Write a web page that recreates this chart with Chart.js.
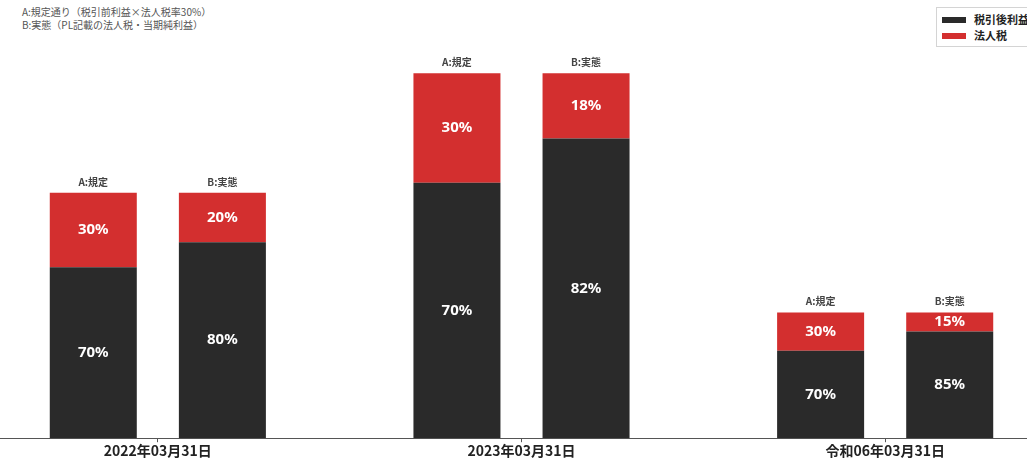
<!DOCTYPE html>
<html>
<head>
<meta charset="utf-8">
<script src="https://cdn.jsdelivr.net/npm/chart.js@4.4.0/dist/chart.umd.min.js"></script>
<style>
  body { margin: 0; width: 1027px; height: 459px; overflow: hidden; background: #fff; position: relative;
         font-family: "Noto Sans CJK JP", "Noto Sans", sans-serif; }
  #wrap { position: absolute; left: -24px; top: 0; width: 1091px; height: 459px; }
  #note { position: absolute; left: 22px; top: 6px; font-size: 10px; line-height: 12.5px; color: #555; }
  #legend { position: absolute; left: 936px; top: 7px; border: 1px solid #d4d4d4; padding: 3px 14px 3px 5px;
            font-size: 11px; font-weight: bold; color: #222; white-space: nowrap; background: #fff; }
  #legend div { height: 16px; line-height: 16px; }
  #legend span.sw { display: inline-block; width: 24px; height: 6px; margin-right: 8px; vertical-align: middle; position: relative; top: -1px; }
</style>
</head>
<body>
<div id="note">A:規定通り（税引前利益×法人税率30%）<br>B:実態（PL記載の法人税・当期純利益）</div>
<div id="wrap"><canvas id="myChart"></canvas></div>
<div id="legend"></div>
<script>
const categories = ["2022年03月31日", "2023年03月31日", "令和06年03月31日"];
const stackNames = ["A:規定", "B:実態"];
const seriesNames = ["税引後利益", "法人税"];

// A: 規定通り
const aAfterTax = [170, 254, 87];
const aTax = [74, 109, 38];
// B: 実態
const bAfterTax = [195, 298, 106];
const bTax = [49, 65, 19];

const darkColor = "#2a2a2a";
const redColor = "#d32f2f";

const ctx = document.getElementById("myChart");

const labelPlugin = {
  id: "barLabels",
  afterDatasetsDraw(chart) {
    const c = chart.ctx;
    const sets = chart.data.datasets;
    c.save();
    c.textAlign = "center";
    c.textBaseline = "middle";
    sets.forEach((ds, di) => {
      const meta = chart.getDatasetMeta(di);
      meta.data.forEach((el, i) => {
        let total = 0;
        sets.forEach((d) => { if (d.stack === ds.stack) total += d.data[i]; });
        const pct = Math.round(ds.data[i] / total * 100) + "%";
        c.fillStyle = "#fff";
        c.font = "bold 15px 'Noto Sans', sans-serif";
        c.fillText(pct, el.x, (el.y + el.base) / 2);
        if (ds.isTop) {
          c.fillStyle = "#444";
          c.font = "bold 10px 'Noto Sans CJK JP', sans-serif";
          c.fillText(ds.stack, el.x, el.y - 11);
        }
      });
    });
    c.restore();
  },
};

const chart = new Chart(ctx, {
  type: "bar",
  data: {
    labels: categories,
    datasets: [
      { label: seriesNames[0], data: aAfterTax, stack: stackNames[0], backgroundColor: darkColor },
      { label: seriesNames[1], data: aTax, stack: stackNames[0], backgroundColor: redColor, isTop: true },
      { label: seriesNames[0], data: bAfterTax, stack: stackNames[1], backgroundColor: darkColor },
      { label: seriesNames[1], data: bTax, stack: stackNames[1], backgroundColor: redColor, isTop: true },
    ],
  },
  options: {
    responsive: true,
    maintainAspectRatio: false,
    animation: false,
    categoryPercentage: 0.71,
    barPercentage: 0.674,
    layout: { padding: { top: 36, bottom: 0, left: 0, right: 0 } },
    plugins: {
      legend: { display: false },
      tooltip: { enabled: false },
    },
    scales: {
      y: {
        stacked: true,
        min: 0,
        max: 400,
        display: false,
      },
      x: {
        stacked: true,
        grid: { offset: false, drawOnChartArea: false, drawTicks: true, tickLength: 4, color: "#555" },
        border: { display: true, color: "#555", width: 1 },
        ticks: {
          color: "#222",
          padding: 0,
          font: { family: "'Noto Sans CJK JP'", size: 14, weight: "bold" },
        },
      },
    },
  },
  plugins: [labelPlugin],
});

// legend built from the series names
const legend = document.getElementById("legend");
[[seriesNames[0], darkColor], [seriesNames[1], redColor]].forEach(([name, col]) => {
  const row = document.createElement("div");
  row.innerHTML = '<span class="sw" style="background:' + col + '"></span>' + name;
  legend.appendChild(row);
});
</script>
</body>
</html>
